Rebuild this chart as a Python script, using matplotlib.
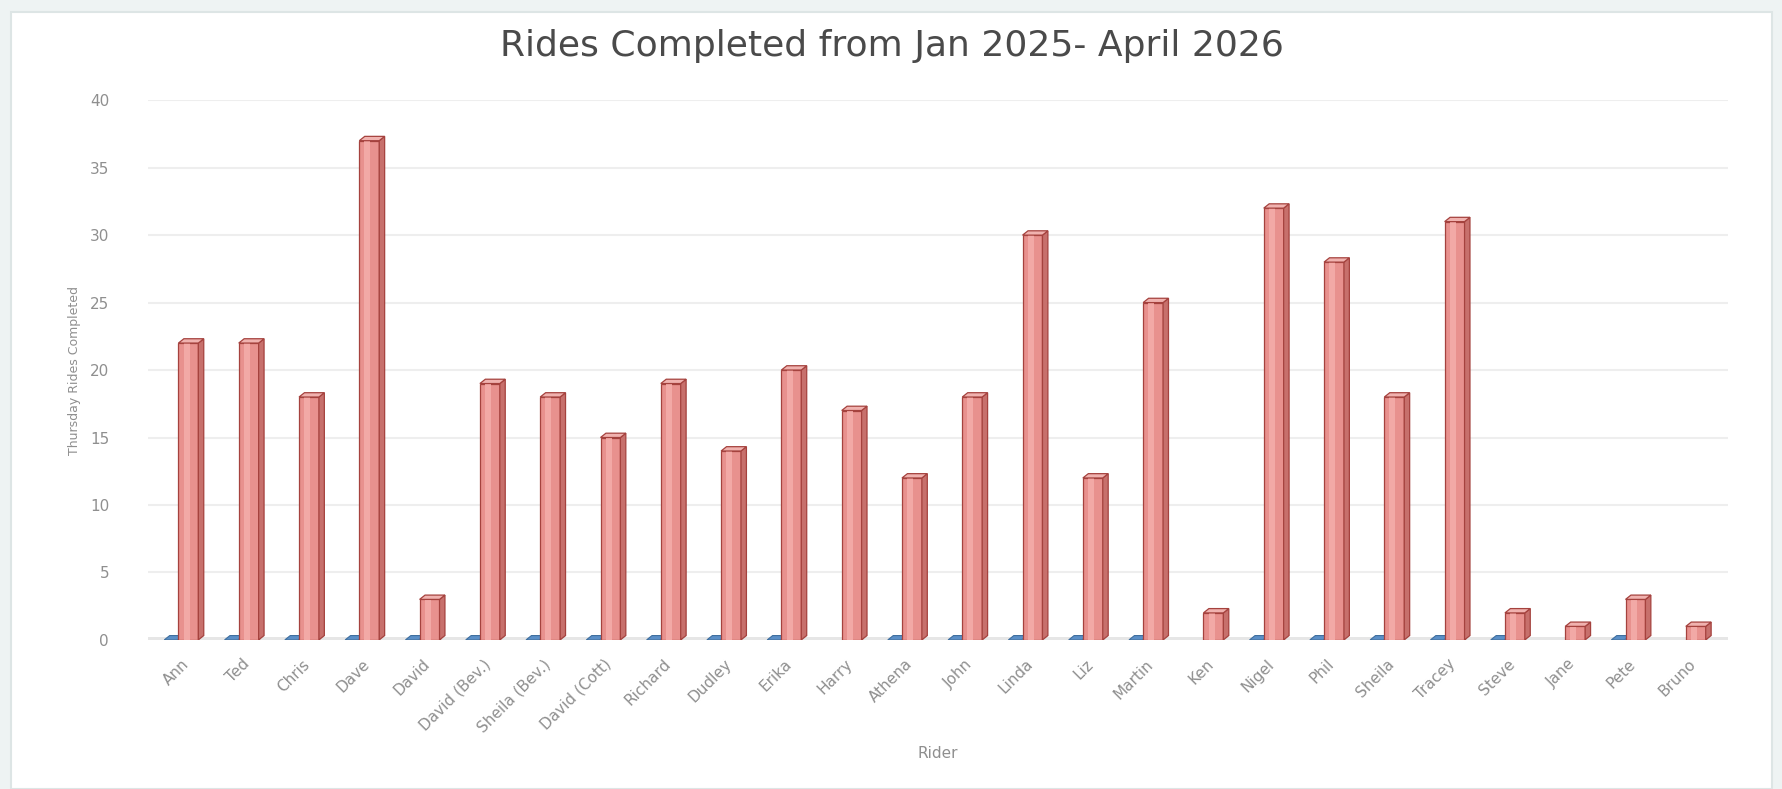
import numpy as np
import matplotlib.pyplot as plt
from matplotlib.patches import Polygon, Rectangle

plt.rcParams["font.family"] = ["DejaVu Sans"]

# -----------------------------------------------------
# Data
# -----------------------------------------------------

riders = ["Ann", "Ted", "Chris", "Dave", "David", "David (Bev.)", "Sheila (Bev.)",
          "David (Cott)", "Richard", "Dudley", "Erika", "Harry", "Athena", "John",
          "Linda", "Liz", "Martin", "Ken", "Nigel", "Phil", "Sheila", "Tracey",
          "Steve", "Jane", "Pete", "Bruno"]

rides = [22, 22, 18, 37, 3, 19, 18, 15, 19, 14, 20, 17, 12, 18,
         30, 12, 25, 2, 32, 28, 18, 31, 2, 1, 3, 1]

# second (empty) series, shown as flat blue slabs where present
other = [0, 0, 0, 0, 0, 0, 0, 0, 0, 0, 0, None, 0, 0,
         0, 0, 0, None, 0, 0, 0, 0, 0, None, 0, None]

# -----------------------------------------------------
# Figure
# -----------------------------------------------------

fig = plt.figure(figsize=(17.83, 7.89), dpi=100, facecolor="#eef3f3")
fig.patches.append(Rectangle((0.006, 0.0), 0.988, 0.985, transform=fig.transFigure,
                             facecolor="white", edgecolor="#dde5e5", linewidth=1.5,
                             zorder=-5))
ax = fig.add_axes([0.083, 0.189, 0.886, 0.684])
ax.set_facecolor("none")

x = np.arange(len(riders))
w = 0.33      # front face width
dx = 0.09     # depth in x
dy = 0.32     # depth in y
off = 0.12    # red bar shift from the tick

# floor
ax.axhspan(-0.05, 0.25, color="#e6e6e6", zorder=1, lw=0)

# blue flat series
for xi, v in zip(x, other):
    if v is None:
        continue
    x0 = xi - 0.28
    ax.add_patch(Polygon([(x0, v), (x0 + 0.22, v), (x0 + 0.22 + dx, v + dy), (x0 + dx, v + dy)],
                         closed=True, facecolor="#5b8fc7", edgecolor="#3f6f9f",
                         lw=0.8, zorder=3))

# red 3d-ish bars
ax.bar(x + off, rides, width=w, color="#e8918e", edgecolor="#a5423e",
       linewidth=0.9, zorder=4)
ax.bar(x + off - 0.03, rides, width=0.1, color="#f2a9a6", linewidth=0, zorder=5)
for xi, v in zip(x, rides):
    x0 = xi + off - w / 2
    x1 = xi + off + w / 2
    ax.add_patch(Polygon([(x1, 0), (x1 + dx, dy), (x1 + dx, v + dy), (x1, v)],
                         closed=True, facecolor="#c7706c", edgecolor="#a5423e",
                         lw=0.9, zorder=4))
    ax.add_patch(Polygon([(x0, v), (x0 + dx, v + dy), (x1 + dx, v + dy), (x1, v)],
                         closed=True, facecolor="#f0b2af", edgecolor="#a5423e",
                         lw=0.9, zorder=5))

ax.set_xlim(-0.55, 25.65)
ax.set_ylim(0, 40)
ax.set_yticks(range(0, 41, 5))
ax.yaxis.grid(True, color="#eeeeee", linewidth=1.5)
ax.set_axisbelow(True)
for s in ax.spines.values():
    s.set_visible(False)

ax.set_xticks(x)
ax.set_xticklabels(riders, rotation=45, ha="right", rotation_mode="anchor",
                   fontsize=11, color="#8f8f8f")
ax.tick_params(axis="both", length=0, pad=12)
ax.tick_params(axis="y", labelsize=11, labelcolor="#8f8f8f", pad=28)

ax.set_ylabel("Thursday Rides Completed", fontsize=9, color="#8f8f8f", labelpad=6)
ax.set_xlabel("Rider", fontsize=11, color="#8f8f8f", labelpad=8)

fig.text(0.5, 0.942, "Rides Completed from Jan 2025- April 2026", ha="center", va="center",
         fontsize=26, color="#4a4a4a")

plt.savefig("out.png", dpi=100)
